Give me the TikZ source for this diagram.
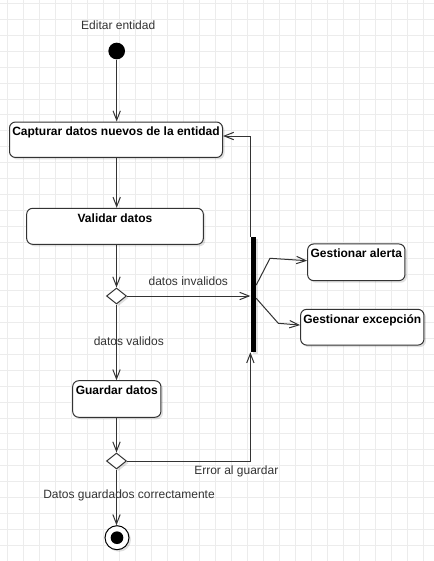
\documentclass[tikz,border=0pt]{standalone}
\usepackage{fontspec}
\setmainfont{Liberation Sans}
\usetikzlibrary{arrows.meta,shapes.geometric,shadows}
\definecolor{gridc}{RGB}{236,236,236}
\definecolor{linec}{RGB}{51,51,51}
\begin{document}
\begin{tikzpicture}[x=0.75pt,y=-0.75pt,
  font=\fontsize{9pt}{11pt}\selectfont,
  gridline/.style={draw=gridc,line width=0.75pt},
  softshadow/.style={drop shadow={shadow xshift=1.5pt,shadow yshift=-1.5pt,opacity=0.12,fill=black}},
  actbox/.style={draw=linec,line width=0.75pt,rounded corners=4.5pt,fill=white,inner sep=0pt,softshadow},
  acttext/.style={font=\fontsize{9pt}{11pt}\selectfont\bfseries,anchor=base,inner sep=0pt},
  lbl/.style={anchor=base,inner sep=0pt,text=linec},
  flow/.style={draw=linec,line width=0.75pt,-{Straight Barb[length=7pt,width=5.5pt]}},
  decision/.style={diamond,draw=linec,fill=white,line width=0.75pt,minimum width=15pt,minimum height=12pt,inner sep=0pt,softshadow},
]
\useasboundingbox (0,0) rectangle (434,561);
\fill[white] (0,0) rectangle (434,561);
% grid
\foreach \i in {0,...,26} \draw[gridline] (7.3+16*\i,0) -- (7.3+16*\i,561);
\foreach \j in {0,...,35} \draw[gridline] (0,3.3+15.95*\j) -- (434,3.3+15.95*\j);

% nodes
\node[circle,fill=black,minimum size=12.5pt,inner sep=0pt] (start) at (116.7,51) {};
\node[actbox,minimum width=159.75pt,minimum height=26.6pt] (cap) at (116,139.75) {};
\node[actbox,minimum width=132.5pt,minimum height=27pt] (val) at (115,226.3) {};
\node[decision] (d1) at (116.5,296) {};
\node[actbox,minimum width=66.2pt,minimum height=27.4pt] (gua) at (116.8,399) {};
\node[decision] (d2) at (116.5,461) {};
\node[circle,draw=black,line width=0.75pt,fill=white,minimum size=18pt,inner sep=0pt,softshadow] (end) at (117,537.7) {};
\node[circle,fill=black,minimum size=9.5pt,inner sep=0pt] (endin) at (end.center) {};
\node[fill=black,minimum width=4pt,minimum height=86.25pt,inner sep=0pt,softshadow] (bar) at (253.3,294.5) {};
\node[actbox,minimum width=73pt,minimum height=27.5pt] (ale) at (356.3,262.3) {};
\node[actbox,minimum width=92.5pt,minimum height=26.8pt] (exc) at (362.3,327.2) {};

% box texts
\node[acttext] (capt) at ([yshift=-10.8pt]cap.north) {Capturar datos nuevos de la entidad};
\node[acttext] (valt) at ([yshift=-10.8pt]val.north) {Validar datos};
\node[acttext] (guat) at ([yshift=-10.8pt]gua.north) {Guardar datos};
\node[acttext] (alet) at ([yshift=-10.8pt]ale.north) {Gestionar alerta};
\node[acttext] (exct) at ([yshift=-10.8pt]exc.north) {Gestionar excepción};

% labels
\node[lbl] (t0) at (118.2,29.3) {Editar entidad};
\node[lbl] (t1) at (188.3,285) {datos invalidos};
\node[lbl] (t2) at (128.8,345) {datos validos};
\node[lbl] (t3) at (236.3,474) {Error al guardar};
\node[lbl] (t4) at (129,498) {Datos guardados correctamente};

% connectors
\coordinate (b1) at (270,258.3);
\coordinate (b2) at (278.3,323.3);
\draw[flow] (start) -- (start |- cap.north);
\draw[flow] (cap.south -| start) -- (val.north -| start);
\draw[flow] (val.south -| d1) -- (d1.north);
\draw[flow] (d1.east) -- (d1.east -| bar.west);
\draw[flow] (d1.south) -- (d1.south |- gua.north);
\draw[flow] (gua.south -| d2) -- (d2.north);
\draw[flow] (d2.south) -- (d2.south |- end.north);
\draw[flow] (d2.east) -| (bar.south west);
\draw[flow] (bar.north west) |- ([yshift=2.8pt]cap.east);
\draw[flow] ([yshift=7.1pt]bar.east) -- (b1) -- ([yshift=1.2pt]ale.west);
\draw[flow] ([yshift=-2.85pt]bar.east) -- (b2) -- ([yshift=1.6pt]exc.west);
\end{tikzpicture}
\end{document}
